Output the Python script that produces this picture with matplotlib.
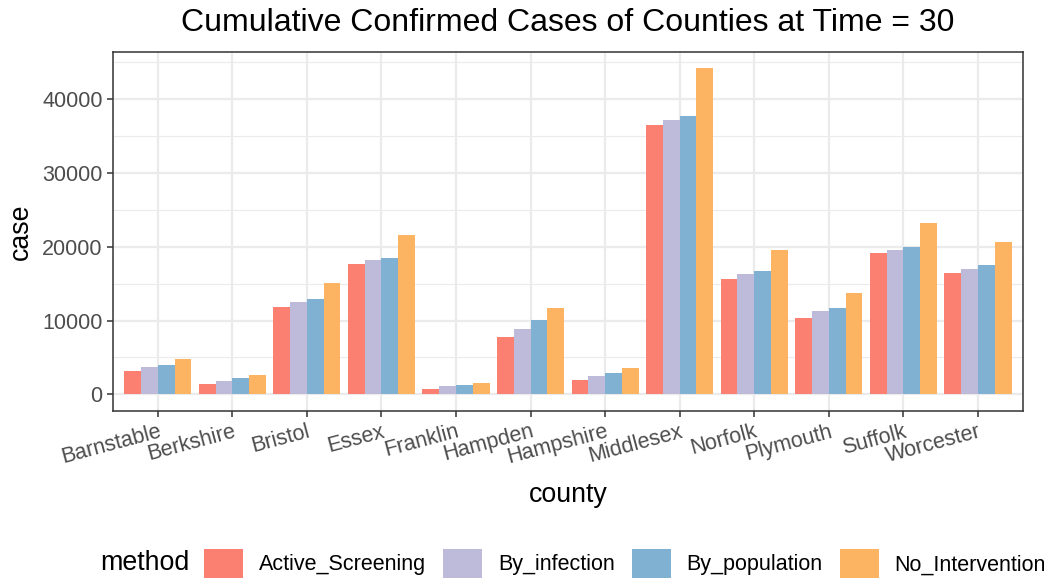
import numpy as np
import matplotlib
matplotlib.use("Agg")
import matplotlib.pyplot as plt
from matplotlib.patches import Patch
from matplotlib.ticker import MultipleLocator

plt.rcParams["font.family"] = ["Liberation Sans", "DejaVu Sans"]

# ── Data ─────────────────────────────────────────────────────────────────────
counties = ["Barnstable", "Berkshire", "Bristol", "Essex", "Franklin", "Hampden",
            "Hampshire", "Middlesex", "Norfolk", "Plymouth", "Suffolk", "Worcester"]
methods = ["Active_Screening", "By_infection", "By_population", "No_Intervention"]

active_screening = [3110, 1350, 11790, 17640, 680, 7840, 1890, 36490, 15680, 10400, 19190, 16490]
by_infection     = [3780, 1760, 12470, 18190, 1080, 8920, 2430, 37160, 16350, 11350, 19600, 17030]
by_population    = [3920, 2160, 12880, 18460, 1220, 10140, 2840, 37700, 16760, 11760, 20000, 17570]
no_intervention  = [4730, 2570, 15050, 21590, 1490, 11760, 3510, 44190, 19600, 13780, 23240, 20680]

colors = ["#FB8072", "#BEBADA", "#80B1D3", "#FDB462"]

# ── Figure ───────────────────────────────────────────────────────────────────
fig = plt.figure(figsize=(10.57, 5.82), dpi=100)
ax = fig.add_axes([113 / 1057, 1 - 410.7 / 582, (1022.7 - 113) / 1057, (410.7 - 52) / 582])

series = [active_screening, by_infection, by_population, no_intervention]
x = np.arange(1, len(counties) + 1)
w = 0.9 / len(series)
for i, (vals, c) in enumerate(zip(series, colors)):
    ax.bar(x - 0.45 + w * (i + 0.5), vals, width=w, color=c, linewidth=0, zorder=3)

ax.set_xlim(0.4, len(counties) + 0.6)
ymax = max(no_intervention)
ax.set_ylim(-0.05 * ymax, ymax * 1.05)

# theme_bw look
grid_c = "#EBEBEB"
ax.set_yticks(np.arange(0, 40001, 10000))
ax.yaxis.set_minor_locator(MultipleLocator(5000))
ax.set_xticks(x)
ax.grid(which="major", color=grid_c, linewidth=1.6, zorder=0)
ax.grid(which="minor", axis="y", color=grid_c, linewidth=0.8, zorder=0)
ax.set_axisbelow(True)
for s in ax.spines.values():
    s.set_color("#333333")
    s.set_linewidth(1.1)
ax.tick_params(axis="both", which="major", colors="#333333", length=4, width=1.1,
               labelsize=15.5, labelcolor="#4D4D4D")
ax.tick_params(axis="y", which="minor", length=0)
ax.set_xticklabels(counties, rotation=15, ha="right", va="top", rotation_mode="anchor")

ax.set_xlabel("county", fontsize=19.3, labelpad=10)
ax.set_ylabel("case", fontsize=19.3, labelpad=6)
ax.set_title("Cumulative Confirmed Cases of Counties at Time = 30", fontsize=23, pad=15)

# ── Legend at bottom ─────────────────────────────────────────────────────────
handles = [Patch(facecolor=c, edgecolor="none") for c in colors]
fig.text(100 / 1057, 1 - 563.5 / 582, "method", fontsize=19.3, ha="left", va="center")
fig.legend(handles, methods, loc="center left", bbox_to_anchor=(204 / 1057, 1 - 563.5 / 582),
           ncol=4, frameon=False, fontsize=15.5, handlelength=1.81, handleheight=1.72,
           handletextpad=0.74, columnspacing=0.79, borderpad=0, borderaxespad=0)

plt.savefig("out.png", dpi=100)
